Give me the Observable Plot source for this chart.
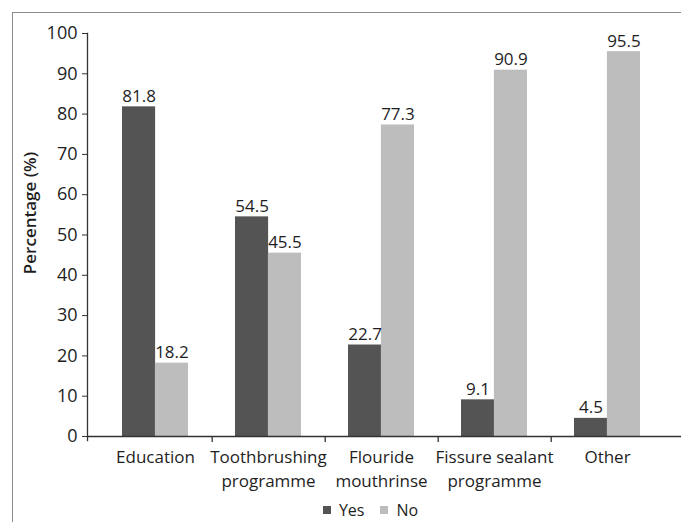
<!DOCTYPE html>
<html>
<head>
<meta charset="utf-8">
<script src="https://cdn.jsdelivr.net/npm/d3@7"></script>
<script src="https://cdn.jsdelivr.net/npm/@observablehq/plot@0.6"></script>
<style>
  html, body { margin: 0; padding: 0; background: #fff; overflow: hidden; }
  body { width: 681px; height: 522px; position: relative; font-family: "Open Sans", sans-serif; }
  #border { position: absolute; left: 12px; top: 12px; width: 720px; height: 560px;
            border-left: 1px solid #8a8a8a; border-top: 1px solid #8a8a8a; pointer-events: none; }
  #chart { position: absolute; left: 0; top: 0; }
  #legend { position: absolute; left: 0; top: 493px; width: 681px; display: flex; justify-content: center; padding-left: 76px; box-sizing: border-box; }
</style>
</head>
<body>
<div id="chart"></div>
<div id="legend"></div>
<div id="border"></div>
<script>
// Oral health activities run by the schools
const categories = ["Education", "Toothbrushing\nprogramme", "Flouride\nmouthrinse", "Fissure sealant\nprogramme", "Other"];
const yesValues = [81.8, 54.5, 22.7, 9.1, 4.5];
const noValues = [18.2, 45.5, 77.3, 90.9, 95.5];
const series = ["Yes", "No"];
const seriesColors = ["#545454", "#bdbdbd"];
const yTicks = [0, 10, 20, 30, 40, 50, 60, 70, 80, 90, 100];

const rows = categories.flatMap((c, i) => [
  {category: c, answer: "Yes", value: yesValues[i]},
  {category: c, answer: "No", value: noValues[i]}
]);
const yesRows = rows.filter(d => d.answer === "Yes");
const noRows = rows.filter(d => d.answer === "No");

// band geometry: each category band holds the two bars side by side
const xRange = [97, 664];
const padInner = 0.42, padOuter = 0.21;
const step = (xRange[1] - xRange[0]) / categories.length;
const half = step * (1 - padInner) / 2;

const font = "Open Sans, sans-serif";

const chart = Plot.plot({
  width: 681,
  height: 493,
  marginLeft: 87,
  marginRight: 0,
  marginTop: 33,
  marginBottom: 57,
  style: {fontFamily: font, fontSize: "17px", color: "#1e1e1e", background: "transparent"},
  x: {domain: categories, range: xRange, paddingInner: padInner, paddingOuter: padOuter, axis: null},
  y: {domain: [0, 100], axis: null},
  color: {domain: series, range: seriesColors},
  marks: [
    Plot.barY(yesRows, {x: "category", y: "value", fill: "answer", insetRight: half}),
    Plot.barY(noRows, {x: "category", y: "value", fill: "answer", insetLeft: half}),
    Plot.text(yesRows, {x: "category", y: "value", text: d => d.value.toFixed(1), dx: -half / 2, dy: -5, lineAnchor: "bottom", fontSize: 17, fill: "#1e1e1e"}),
    Plot.text(noRows, {x: "category", y: "value", text: d => d.value.toFixed(1), dx: half / 2, dy: -5, lineAnchor: "bottom", fontSize: 17, fill: "#1e1e1e"}),
    Plot.ruleY([0], {stroke: "#333", strokeWidth: 1.3}),
    Plot.frame({anchor: "left", stroke: "#333", strokeWidth: 1.3, insetBottom: -4}),
    Plot.ruleX(categories.slice(0, -1), {x: d => d, y1: 0, y2: 0, dx: step / 2, insetBottom: -6, stroke: "#333", strokeWidth: 1.3}),
    Plot.axisY({ticks: yTicks, tickSize: 5, tickPadding: 5, label: null, fontSize: 18, stroke: "#333"}),
    Plot.axisX({tickSize: 0, tickPadding: 10, label: null, fontSize: 17, lineHeight: 1.4}),
    Plot.text(["Percentage (%)"], {frameAnchor: "left", rotate: -90, textAnchor: "middle", dx: -57, dy: -22, fontSize: 17, fontWeight: 600, fill: "#1e1e1e"})
  ]
});
document.getElementById("chart").append(chart);

const legend = Plot.legend({
  color: {domain: series, range: seriesColors},
  legend: "swatches",
  swatchSize: 8,
  style: {fontFamily: font, fontSize: "16px", color: "#1e1e1e"}
});
document.getElementById("legend").append(legend);
</script>
</body>
</html>
